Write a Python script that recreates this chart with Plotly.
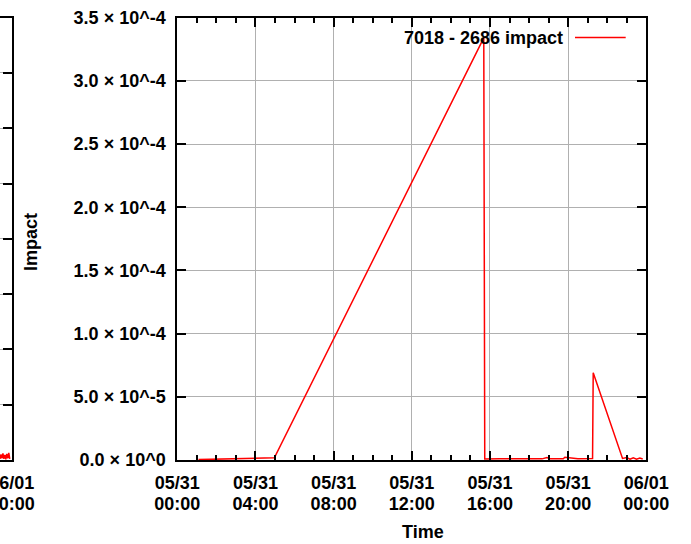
import plotly.graph_objects as go

W, H = 691, 544

# 7018 - 2686 impact over one day
times = [
    "2015-05-31 01:05", "2015-05-31 02:00", "2015-05-31 03:00", "2015-05-31 04:00",
    "2015-05-31 04:58", "2015-05-31 15:41", "2015-05-31 15:44", "2015-05-31 16:30",
    "2015-05-31 17:30", "2015-05-31 18:40", "2015-05-31 18:55", "2015-05-31 19:05",
    "2015-05-31 19:45", "2015-05-31 19:50", "2015-05-31 20:30", "2015-05-31 21:15",
    "2015-05-31 21:17", "2015-05-31 22:47", "2015-05-31 23:00", "2015-05-31 23:10",
    "2015-05-31 23:20", "2015-05-31 23:30", "2015-05-31 23:40", "2015-05-31 23:49",
]
impact = [
    3e-7, 6e-7, 9e-7, 1.2e-6,
    1.7e-6, 3.34e-4, 8e-7, 9e-7,
    7e-7, 9e-7, 2.0e-6, 9e-7,
    1.0e-6, 2.2e-6, 1.0e-6, 1.1e-6,
    6.9e-5, 1.2e-6, 2.0e-6, 6e-7,
    1.8e-6, 7e-7, 1.6e-6, 8e-7,
]

# tail of the neighbouring panel
left_times = [
    "2015-05-31 23:24", "2015-05-31 23:27", "2015-05-31 23:30", "2015-05-31 23:33",
    "2015-05-31 23:36", "2015-05-31 23:39", "2015-05-31 23:42", "2015-05-31 23:45",
    "2015-05-31 23:48", "2015-05-31 23:51", "2015-05-31 23:54",
]
left_vals = [0.02, 0.10, 0.03, 0.12, 0.02, 0.09, 0.01, 0.11, 0.03, 0.13, 0.02]

x_tick_vals = [
    "2015-05-31 00:00", "2015-05-31 04:00", "2015-05-31 08:00", "2015-05-31 12:00",
    "2015-05-31 16:00", "2015-05-31 20:00", "2015-06-01 00:00",
]
x_tick_dates = ["05/31", "05/31", "05/31", "05/31", "05/31", "05/31", "06/01"]
x_tick_hours = ["00:00", "04:00", "08:00", "12:00", "16:00", "20:00", "00:00"]
y_tick_vals = [0, 0.5e-4, 1.0e-4, 1.5e-4, 2.0e-4, 2.5e-4, 3.0e-4, 3.5e-4]
y_tick_text = [
    "0.0 × 10^0", "5.0 × 10^-5", "1.0 × 10^-4", "1.5 × 10^-4",
    "2.0 × 10^-4", "2.5 × 10^-4", "3.0 × 10^-4", "3.5 × 10^-4",
]
left_x_tick_vals = ["2015-06-01 00:00"]
left_x_tick_dates = ["06/01"]
left_x_tick_hours = ["00:00"]
left_y_tick_vals = [0, 1, 2, 3, 4, 5, 6, 7, 8]

series_name = "7018 - 2686 impact"

FONT = dict(family="Liberation Sans, Arial, sans-serif", size=18, color="black", weight="bold")
GRID = "#b0b0b0"
RED = "#ff0000"

# plot frame positions in pixels
main_l, main_r, top_px, bot_px = 177.3, 646.3, 17.7, 460.0
left_r = 11.7
main_range = ["2015-05-31 00:00", "2015-06-01 00:00"]
left_range = ["2015-05-31 23:24", "2015-06-01 00:00"]

fig = go.Figure()
fig.add_trace(go.Scatter(x=times, y=impact, mode="lines", name=series_name,
                         line=dict(color=RED, width=1.5), xaxis="x", yaxis="y"))
fig.add_trace(go.Scatter(x=left_times, y=left_vals, mode="lines", showlegend=False,
                         line=dict(color=RED, width=1.5), xaxis="x2", yaxis="y2"))
# carriers for the second row of the date/time tick labels
fig.add_trace(go.Scatter(x=[], y=[], xaxis="x3", yaxis="y", showlegend=False))
fig.add_trace(go.Scatter(x=[], y=[], xaxis="x4", yaxis="y2", showlegend=False))

ydom = [(H - bot_px) / H, (H - top_px) / H]
axis_common = dict(showline=True, linecolor="black", linewidth=2, gridcolor=GRID,
                   gridwidth=1.3, zeroline=False, tickcolor="black", tickwidth=1.5,
                   ticks="inside", ticklen=9, automargin=False, tickfont=FONT,
                   ticklabeloverflow="allow")
row2_common = dict(showline=False, showgrid=False, zeroline=False, ticks="",
                   automargin=False, tickfont=FONT, ticklabeloverflow="allow",
                   ticklabelstandoff=31, type="date", tickmode="array")

fig.update_layout(
    width=W, height=H,
    margin=dict(l=0, r=0, t=0, b=0),
    paper_bgcolor="white", plot_bgcolor="white",
    showlegend=False,
    xaxis=dict(domain=[main_l / W, main_r / W], anchor="y", type="date", range=main_range,
               tickmode="array", tickvals=x_tick_vals, ticktext=x_tick_dates,
               mirror="ticks", ticklabelstandoff=5,
               minor=dict(dtick=3600000, ticks="inside", ticklen=5, tickcolor="black",
                          tickwidth=1.5, showgrid=False),
               **axis_common),
    xaxis3=dict(domain=[main_l / W, main_r / W], anchor="y", overlaying="x",
                range=main_range, tickvals=x_tick_vals, ticktext=x_tick_hours,
                **row2_common),
    yaxis=dict(domain=ydom, anchor="x", range=[0, 3.5e-4],
               tickmode="array", tickvals=y_tick_vals, ticktext=y_tick_text,
               mirror="ticks", ticklabelstandoff=6, **axis_common),
    xaxis2=dict(domain=[0, left_r / W], anchor="y2", type="date", range=left_range,
                tickmode="array", tickvals=left_x_tick_vals, ticktext=left_x_tick_dates,
                mirror=True, ticklabelstandoff=5, **axis_common),
    xaxis4=dict(domain=[0, left_r / W], anchor="y2", overlaying="x2",
                range=left_range, tickvals=left_x_tick_vals, ticktext=left_x_tick_hours,
                **row2_common),
    yaxis2=dict(domain=ydom, anchor="x2", side="right", range=[0, 8],
                tickmode="array", tickvals=left_y_tick_vals, showticklabels=False,
                **axis_common),
)

# axis titles
fig.add_annotation(text="Impact", xref="paper", yref="paper", x=31 / W, y=(H - 242) / H,
                   textangle=-90, showarrow=False, font=FONT, xanchor="center", yanchor="middle")
fig.add_annotation(text="Time", xref="paper", yref="paper", x=423 / W, y=(H - 532) / H,
                   showarrow=False, font=FONT, xanchor="center", yanchor="middle")

# key: label followed by a line sample
key_y = (H - 37.5) / H
fig.add_annotation(text=series_name, xref="paper", yref="paper", x=565 / W, y=key_y,
                   showarrow=False, font=FONT, xanchor="right", yanchor="middle")
fig.add_shape(type="line", xref="paper", yref="paper", x0=575 / W, x1=625.7 / W,
              y0=key_y, y1=key_y, line=dict(color=RED, width=1.5))

fig.write_html("out.html")
